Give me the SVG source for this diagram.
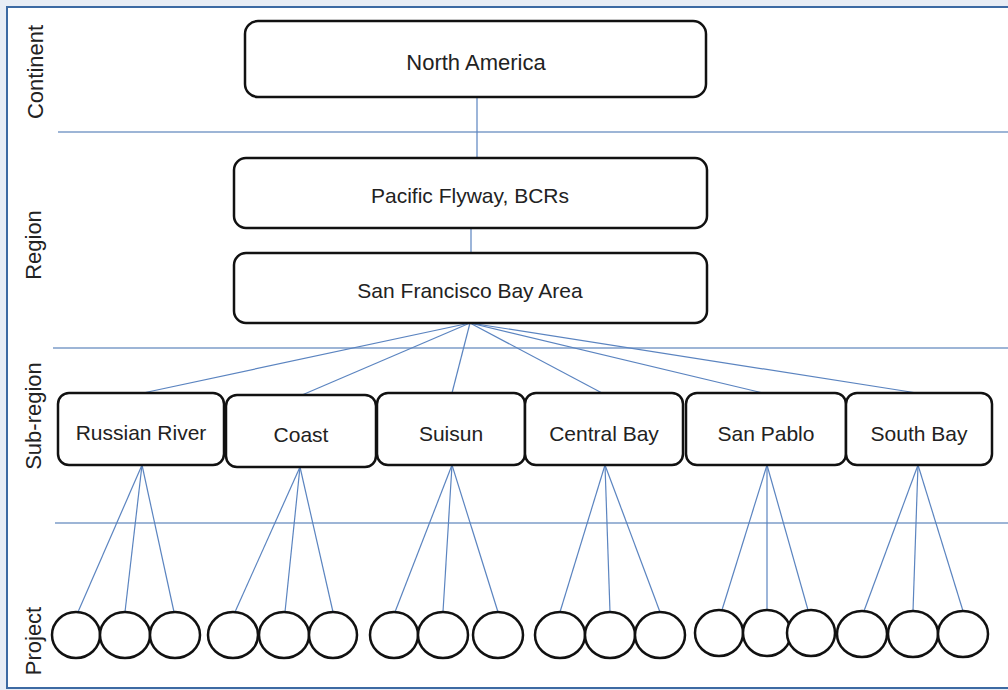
<svg xmlns="http://www.w3.org/2000/svg" width="1008" height="690" viewBox="0 0 1008 690">
<style>
.box{fill:#fff;stroke:#111;stroke-width:2.5}
.proj{fill:#fff;stroke:#111;stroke-width:2.5}
.lbl{font-family:"Liberation Sans",Arial,sans-serif;font-size:21px;fill:#222;text-anchor:middle}
.side{font-family:"Liberation Sans",Arial,sans-serif;font-size:22px;fill:#222;text-anchor:middle}
.conn line{stroke:#5b84c0;stroke-width:1.2}
.tier{stroke:#7d9cc9;stroke-width:1.5}
</style>
<rect x="0" y="0" width="1008" height="690" fill="#e8edf5"/>
<rect x="7" y="7" width="1010" height="681" fill="#fff" stroke="#3d6aa3" stroke-width="2"/>
<g id="tiers">
<line class="tier" x1="58" y1="132" x2="1008" y2="132"/>
<line class="tier" x1="53" y1="348" x2="1008" y2="348"/>
<line class="tier" x1="55" y1="523" x2="1008" y2="523"/>
</g>
<g id="tier-labels">
<text class="side" transform="translate(43,72) rotate(-90)">Continent</text>
<text class="side" transform="translate(41,245) rotate(-90)">Region</text>
<text class="side" transform="translate(41,416) rotate(-90)">Sub-region</text>
<text class="side" transform="translate(41,641) rotate(-90)">Project</text>
</g>
<g class="conn" id="connectors">
<line x1="477" y1="97" x2="477" y2="158"/>
<line x1="471" y1="228" x2="471" y2="253"/>
<line x1="470" y1="323" x2="143" y2="393"/>
<line x1="470" y1="323" x2="302" y2="395"/>
<line x1="470" y1="323" x2="452" y2="393"/>
<line x1="470" y1="323" x2="602" y2="393"/>
<line x1="470" y1="323" x2="763" y2="393"/>
<line x1="470" y1="323" x2="917" y2="393"/>
<line x1="142" y1="465" x2="78" y2="612"/>
<line x1="142" y1="465" x2="125" y2="612"/>
<line x1="142" y1="465" x2="174" y2="612"/>
<line x1="300" y1="467" x2="235" y2="612"/>
<line x1="300" y1="467" x2="285" y2="612"/>
<line x1="300" y1="467" x2="333" y2="612"/>
<line x1="452" y1="465" x2="395" y2="612"/>
<line x1="452" y1="465" x2="443" y2="612"/>
<line x1="452" y1="465" x2="498" y2="612"/>
<line x1="605" y1="465" x2="560" y2="612"/>
<line x1="605" y1="465" x2="610" y2="612"/>
<line x1="605" y1="465" x2="660" y2="612"/>
<line x1="767" y1="465" x2="722" y2="610"/>
<line x1="767" y1="465" x2="767" y2="610"/>
<line x1="767" y1="465" x2="808" y2="610"/>
<line x1="918" y1="465" x2="864" y2="611"/>
<line x1="918" y1="465" x2="913" y2="611"/>
<line x1="918" y1="465" x2="963" y2="611"/>
</g>
<g id="north-america"><rect class="box" x="245" y="21" width="461" height="76" rx="13"/><text class="lbl" x="476" y="70" style="font-size:22px">North America</text></g>
<g id="pacific-flyway"><rect class="box" x="234" y="158" width="473" height="70" rx="12"/><text class="lbl" x="470" y="203">Pacific Flyway, BCRs</text></g>
<g id="sf-bay-area"><rect class="box" x="234" y="253" width="473" height="70" rx="12"/><text class="lbl" x="470" y="298">San Francisco Bay Area</text></g>
<g id="russian-river"><rect class="box" x="58" y="393" width="166" height="72" rx="11"/><text class="lbl" x="141" y="440">Russian River</text></g>
<g id="coast"><rect class="box" x="226" y="395" width="150" height="72" rx="11"/><text class="lbl" x="301" y="442">Coast</text></g>
<g id="suisun"><rect class="box" x="377" y="393" width="148" height="72" rx="11"/><text class="lbl" x="451" y="441">Suisun</text></g>
<g id="central-bay"><rect class="box" x="525" y="393" width="158" height="72" rx="11"/><text class="lbl" x="604" y="441">Central Bay</text></g>
<g id="san-pablo"><rect class="box" x="686" y="393" width="160" height="72" rx="11"/><text class="lbl" x="766" y="441">San Pablo</text></g>
<g id="south-bay"><rect class="box" x="846" y="393" width="146" height="72" rx="11"/><text class="lbl" x="919" y="441">South Bay</text></g>
<g id="projects">
<ellipse class="proj" cx="76" cy="635" rx="24" ry="23"/>
<ellipse class="proj" cx="125" cy="635" rx="25" ry="23"/>
<ellipse class="proj" cx="175" cy="635" rx="25" ry="23"/>
<ellipse class="proj" cx="233" cy="635" rx="25" ry="23"/>
<ellipse class="proj" cx="284" cy="635" rx="25" ry="23"/>
<ellipse class="proj" cx="333" cy="635" rx="24" ry="23"/>
<ellipse class="proj" cx="394" cy="635" rx="24" ry="23"/>
<ellipse class="proj" cx="443" cy="635" rx="25" ry="23"/>
<ellipse class="proj" cx="498" cy="635" rx="25" ry="23"/>
<ellipse class="proj" cx="560" cy="635" rx="25" ry="23"/>
<ellipse class="proj" cx="610" cy="635" rx="25" ry="23"/>
<ellipse class="proj" cx="660" cy="635" rx="25" ry="23"/>
<ellipse class="proj" cx="719" cy="633" rx="24" ry="23"/>
<ellipse class="proj" cx="767" cy="633" rx="24" ry="23"/>
<ellipse class="proj" cx="811" cy="633" rx="24" ry="23"/>
<ellipse class="proj" cx="862" cy="634" rx="25" ry="23"/>
<ellipse class="proj" cx="913" cy="634" rx="25" ry="23"/>
<ellipse class="proj" cx="963" cy="634" rx="25" ry="23"/>
</g>
</svg>
